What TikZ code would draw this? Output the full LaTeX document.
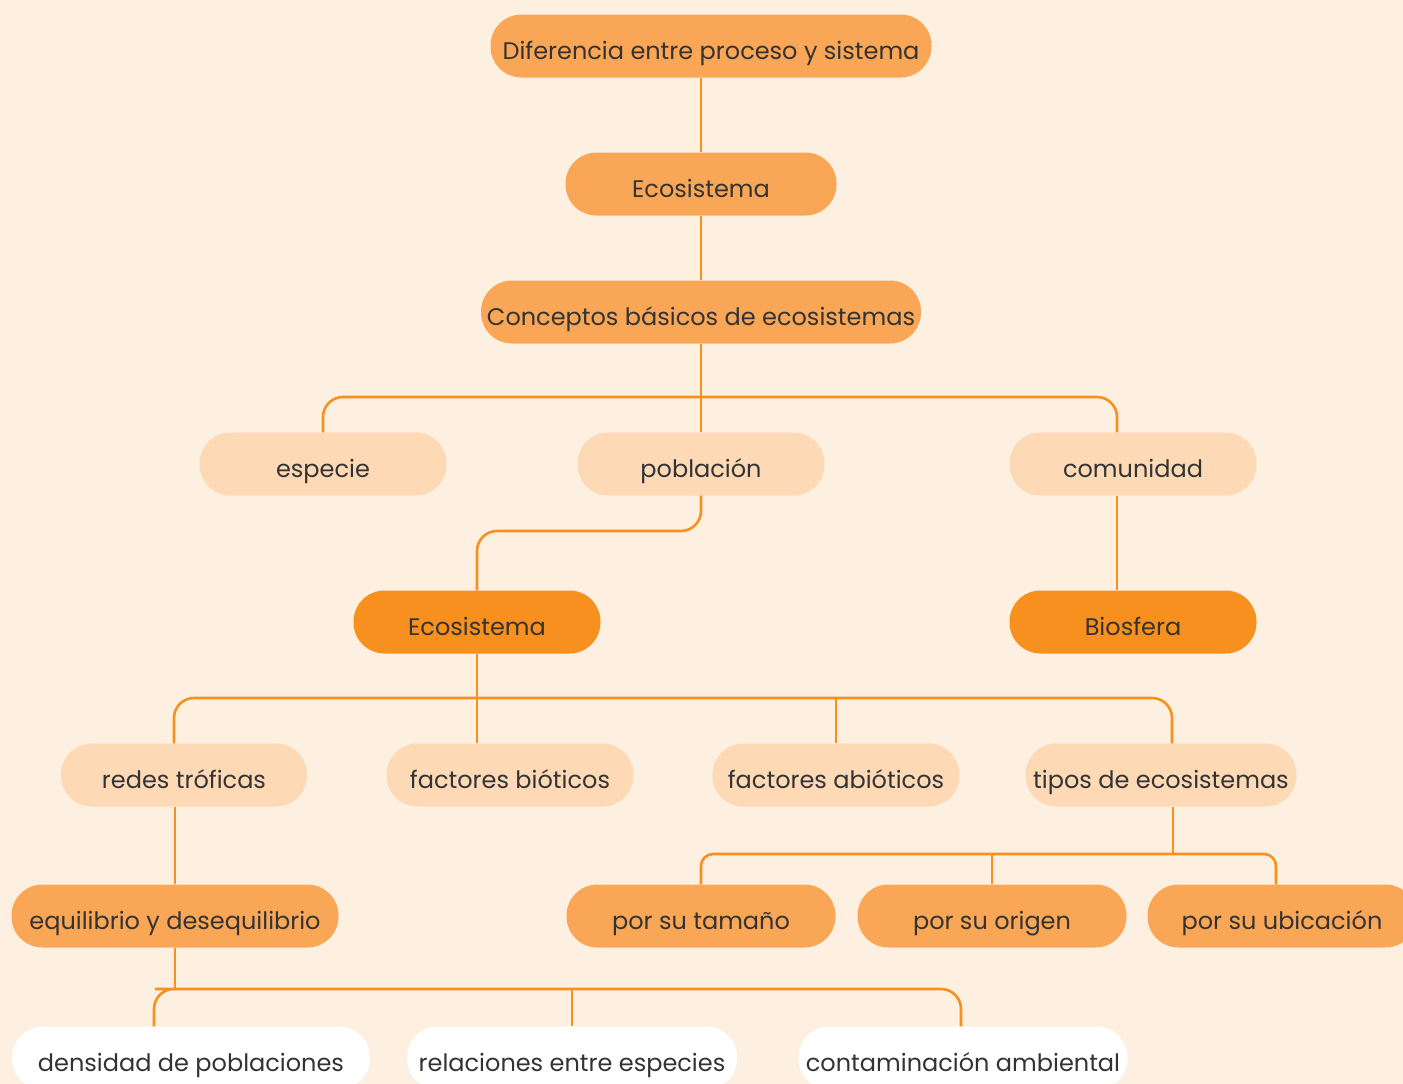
\documentclass[tikz,border=0pt]{standalone}
\usepackage{fontspec}
\setmainfont{Poppins}
\usetikzlibrary{positioning}
\definecolor{bgcream}{RGB}{254,240,225}
\definecolor{midorange}{RGB}{249,167,86}
\definecolor{lightpeach}{RGB}{253,217,181}
\definecolor{deeporange}{RGB}{247,144,30}
\definecolor{inkgray}{RGB}{51,51,51}

\begin{document}
\begin{tikzpicture}[x=1pt, y=-1pt,
    box/.style={rectangle, rounded corners=31pt, minimum height=63pt, inner sep=0pt,
      text height=28pt, text depth=2pt,
      text=inkgray, font=\fontsize{24}{28}\selectfont},
    midbox/.style={box, fill=midorange},
    lightbox/.style={box, fill=lightpeach},
    deepbox/.style={box, fill=deeporange},
    whitebox/.style={box, fill=white},
    link/.style={draw=deeporange, line width=2.6pt, rounded corners=20pt}]
  \useasboundingbox (0,0) rectangle (1403,1084);
  \clip (0,0) rectangle (1403,1084);
  \fill[bgcream] (0,0) rectangle (1403,1084);

  % upper chain
  \node[midbox, minimum width=441pt] (diferencia) at (711,46) {Diferencia entre proceso y sistema};
  \node[midbox, minimum width=271pt] (ecotop) at (701,184) {Ecosistema};
  \node[midbox, minimum width=440pt] (conceptos) at (701,312) {Conceptos básicos de ecosistemas};

  \node[lightbox, minimum width=247pt] (especie) at (323,464) {especie};
  \node[lightbox, minimum width=247pt] (poblacion) at (701,464) {población};
  \node[lightbox, minimum width=247pt] (comunidad) at (1133,464) {comunidad};

  \node[deepbox, minimum width=247pt] (ecosis) at (477,622) {Ecosistema};
  \node[deepbox, minimum width=247pt] (biosfera) at (1133,622) {Biosfera};

  % second level
  \node[lightbox, minimum width=246pt] (redes) at (184,775) {redes tróficas};
  \node[lightbox, minimum width=247pt] (bioticos) at (510,775) {factores bióticos};
  \node[lightbox, minimum width=247pt] (abioticos) at (836,775) {factores abióticos};
  \node[lightbox, minimum width=271pt] (tipos) at (1161,775) {tipos de ecosistemas};

  \node[midbox, minimum width=327pt] (equilibrio) at (175,916) {equilibrio y desequilibrio};
  \node[midbox, minimum width=269pt] (tamano) at (701,916) {por su tamaño};
  \node[midbox, minimum width=269pt] (origen) at (992,916) {por su origen};
  \node[midbox, minimum width=269pt] (ubicacion) at (1282,916) {por su ubicación};

  \node[whitebox, minimum width=358pt] (densidad) at (191,1058) {densidad de poblaciones};
  \node[whitebox, minimum width=330pt] (relaciones) at (572,1058) {relaciones entre especies};
  \node[whitebox, minimum width=329pt] (contaminacion) at (963,1058) {contaminación ambiental};

  % junction points
  \coordinate (barA) at (701,397);
  \coordinate (barB) at (590,531);
  \coordinate (barC) at (477,698);
  \coordinate (barD) at (1173,854);
  \coordinate (barE) at (175,989);

  % connectors
  \draw[link] (diferencia.south -| ecotop.north) -- (ecotop.north);
  \draw[link] (ecotop.south) -- (conceptos.north);
  \draw[link] (conceptos.south) -- (poblacion.north);
  \draw[link] (especie.north) |- (barA) -| ([xshift=-16pt]comunidad.north);
  \draw[link] (poblacion.south) |- (barB) -| (ecosis.north);
  \draw[link] ([xshift=-16pt]comunidad.south) -- ([xshift=-16pt]biosfera.north);

  \draw[link] (ecosis.south) -- (ecosis.south |- bioticos.north);
  \draw[link] ([xshift=-10pt]redes.north) |- (barC) -| ([xshift=11pt]tipos.north);
  \draw[link] (barC -| abioticos.north) -- (abioticos.north);
  \draw[link] ([xshift=-9pt]redes.south) -- (equilibrio.north);

  \draw[link, rounded corners=12pt] ([xshift=12pt]tipos.south) -- (barD);
  \draw[link, rounded corners=12pt] (tamano.north) |- (barD) -| ([xshift=-6pt]ubicacion.north);
  \draw[link] (barD -| origen.north) -- (origen.north);

  \draw[link] (equilibrio.south) -- (barE);
  \draw[link] ([xshift=-37pt]densidad.north) |- (barE) -| ([xshift=-2pt]contaminacion.north);
  \draw[link] (barE -| relaciones.north) -- (relaciones.north);
\end{tikzpicture}
\end{document}
